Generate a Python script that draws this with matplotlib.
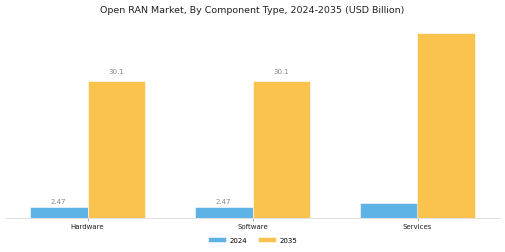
import matplotlib
matplotlib.use("Agg")
import matplotlib.pyplot as plt
import numpy as np

categories = ["Hardware", "Software", "Services"]
years = ["2024", "2035"]
values_2024 = [2.47, 2.47, 3.3]
values_2035 = [30.1, 30.1, 40.6]
labels_2024 = ["2.47", "2.47", None]
labels_2035 = ["30.1", "30.1", None]
colors = ["#5DB3E6", "#F9C34D"]

fig = plt.figure(figsize=(5.05, 2.53), dpi=100)
ax = fig.add_axes([5/505, 1 - 219/253, 495/505, (219 - 24.5)/253])

x = np.arange(len(categories))
w = 0.35
b1 = ax.bar(x - w/2, values_2024, w, color=colors[0], label=years[0], edgecolor="white", linewidth=0.4)
b2 = ax.bar(x + w/2, values_2035, w, color=colors[1], label=years[1], edgecolor="white", linewidth=0.4)

for rect, lab in zip(b1, labels_2024):
    if lab:
        ax.text(rect.get_x() + rect.get_width()/2, rect.get_height() + 0.6, lab,
                ha="center", va="bottom", fontsize=5, color="#888888")
for rect, lab in zip(b2, labels_2035):
    if lab:
        ax.text(rect.get_x() + rect.get_width()/2, rect.get_height() + 1.6, lab,
                ha="center", va="bottom", fontsize=5, color="#888888")

ax.set_xlim(-0.5, 2.5)
ax.set_ylim(0, 42.7)
ax.set_xticks(x)
ax.set_xticklabels(categories, fontsize=5, color="#222222")
ax.tick_params(axis="x", length=2, width=0.5, color="#888888", pad=1.5)
ax.set_yticks([])
for s in ["top", "right", "left"]:
    ax.spines[s].set_visible(False)
ax.spines["bottom"].set_color("#dddddd")
ax.spines["bottom"].set_linewidth(0.6)

fig.suptitle("Open RAN Market, By Component Type, 2024-2035 (USD Billion)",
             fontsize=6.8, y=0.975, color="#222222")
fig.legend(loc="center", bbox_to_anchor=(0.5, 1 - 241/253), ncol=2, frameon=False,
           fontsize=5, handlelength=2.6, handleheight=0.6, handletextpad=0.5,
           columnspacing=1.6)

fig.savefig("out.png", dpi=100)
